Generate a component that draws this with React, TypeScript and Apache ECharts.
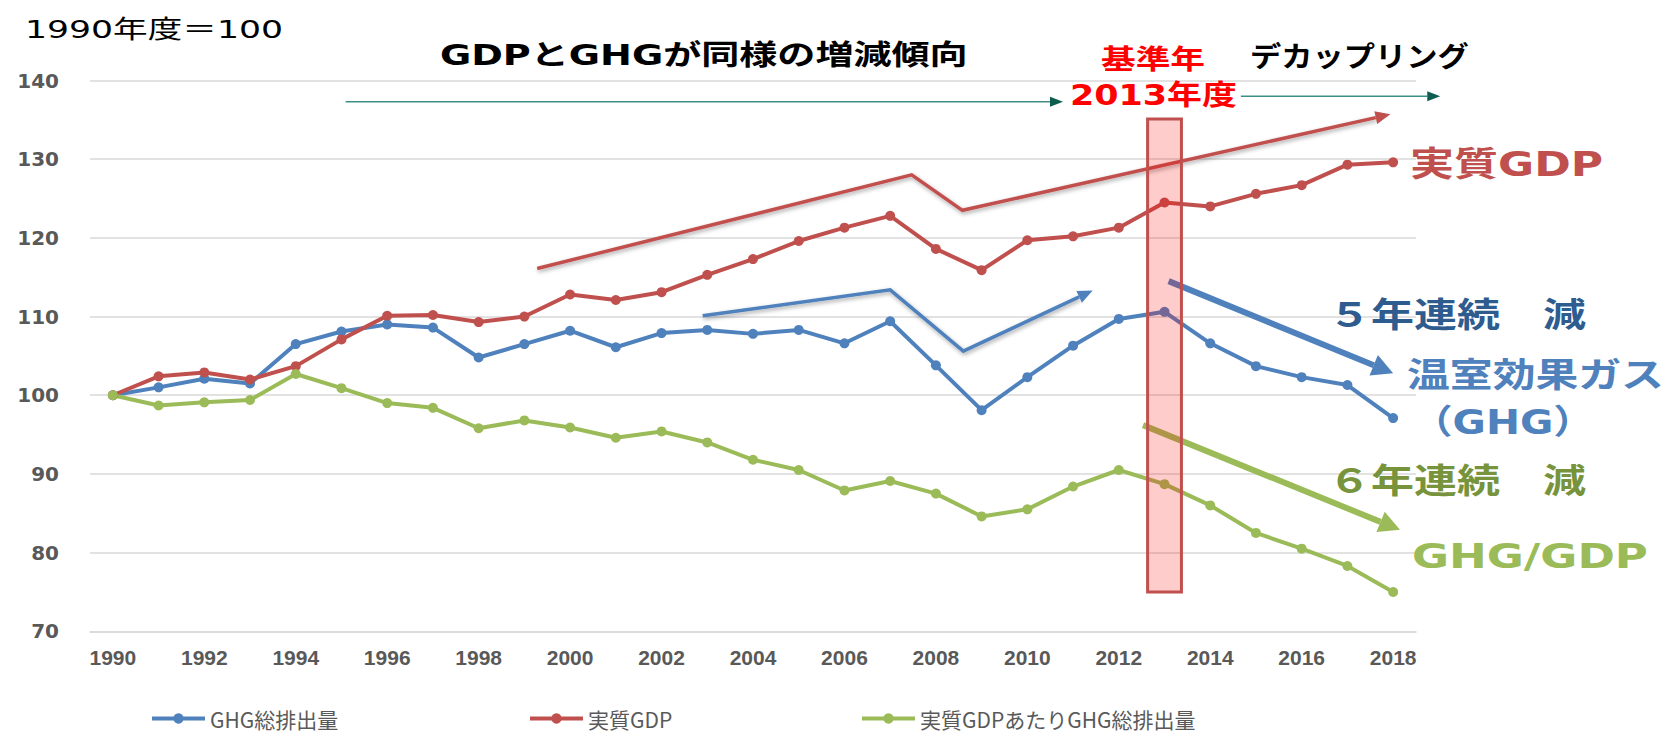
import React, { useEffect, useRef } from "react";
import * as echarts from "echarts";

// ---------- data ----------
const years = [
  "1990", "1991", "1992", "1993", "1994", "1995", "1996", "1997", "1998", "1999",
  "2000", "2001", "2002", "2003", "2004", "2005", "2006", "2007", "2008", "2009",
  "2010", "2011", "2012", "2013", "2014", "2015", "2016", "2017", "2018",
];
const ghgTotal = [
  100, 101.0, 102.1, 101.5, 106.5, 108.1, 109.0, 108.6, 104.8, 106.5,
  108.2, 106.1, 107.9, 108.3, 107.8, 108.3, 106.6, 109.4, 103.8, 98.1,
  102.3, 106.3, 109.7, 110.6, 106.6, 103.7, 102.3, 101.3, 97.1,
];
const realGdp = [
  100, 102.4, 102.9, 102.0, 103.7, 107.1, 110.1, 110.2, 109.3, 110.0,
  112.8, 112.1, 113.1, 115.3, 117.3, 119.6, 121.3, 122.8, 118.6, 115.9,
  119.7, 120.2, 121.3, 124.5, 124.0, 125.6, 126.7, 129.3, 129.6,
];
const ghgPerGdp = [
  100, 98.7, 99.1, 99.4, 102.7, 100.9, 99.0, 98.4, 95.8, 96.8,
  95.9, 94.6, 95.4, 94.0, 91.8, 90.5, 87.9, 89.1, 87.5, 84.6,
  85.5, 88.4, 90.5, 88.7, 86.0, 82.5, 80.5, 78.3, 75.0,
];
const seriesNames = ["GHG総排出量", "実質GDP", "実質GDPあたりGHG総排出量"];
const yMin = 70;
const yMax = 140;
const yInterval = 10;

// annotation paths in data space: [fiscal year, index value]
const gdpTrendPath = [[1999.28, 116.1], [2007.47, 128.0], [2008.58, 123.5], [2017.94, 135.7]];
const ghgTrendPath = [[2002.9, 110.1], [2007.0, 113.4], [2008.6, 105.6], [2011.43, 113.3]];
const ghgDeclinePath = [[2013.09, 114.5], [2018.0, 102.8]];
const ratioDeclinePath = [[2012.53, 96.2], [2018.15, 82.9]];
const coupledPeriodPath = [[1995.09, 137.3], [2010.78, 137.3]];
const decoupledPeriodPath = [[2014.67, 138.0], [2019.03, 138.0]];
const baseYearBand = [[2012.63, 135.1], [2013.37, 75.0]];

// ---------- styles ----------
const BLUE = "#4F81BD";
const RED = "#C0504D";
const GREEN = "#9BBB59";
const GRAY = "#595959";
const FONT = "'DejaVu Sans', 'Noto Sans CJK JP', sans-serif";
const CJK = "'Noto Sans CJK JP', sans-serif";

type Label = {
  text: string; left: number; right: number; cy: number;
  size: number; weight: string; color: string;
};
const labels: Label[] = [
  { text: "1990年度＝100", left: 25, right: 283, cy: 29, size: 25, weight: "normal", color: "#000000" },
  { text: "GDPとGHGが同様の増減傾向", left: 440, right: 968, cy: 55, size: 28, weight: "bold", color: "#000000" },
  { text: "基準年", left: 1101, right: 1205, cy: 59, size: 27, weight: "bold", color: "#FF0000" },
  { text: "2013年度", left: 1070, right: 1237, cy: 95, size: 28, weight: "bold", color: "#FF0000" },
  { text: "デカップリング", left: 1250, right: 1469, cy: 57, size: 28, weight: "bold", color: "#000000" },
  { text: "実質GDP", left: 1410, right: 1603, cy: 164, size: 34, weight: "bold", color: RED },
  { text: "５年連続　減", left: 1328, right: 1586, cy: 315, size: 34, weight: "bold", color: "#2F5C8F" },
  { text: "温室効果ガス", left: 1407, right: 1664, cy: 375, size: 34, weight: "bold", color: BLUE },
  { text: "（GHG）", left: 1412, right: 1594, cy: 422, size: 34, weight: "bold", color: BLUE },
  { text: "６年連続　減", left: 1328, right: 1586, cy: 481, size: 34, weight: "bold", color: "#77933C" },
  { text: "GHG/GDP", left: 1412, right: 1648, cy: 556, size: 34, weight: "bold", color: GREEN },
];

export default function App() {
  const ref = useRef<HTMLDivElement>(null);

  useEffect(() => {
    if (!ref.current) return;
    const chart = echarts.init(ref.current, undefined, { renderer: "svg" });

    const lineSeries = (name: string, data: number[], color: string) => ({
      name,
      type: "line",
      data,
      symbol: "circle",
      symbolSize: 10,
      color,
      lineStyle: { width: 4, color },
      itemStyle: { color },
    });

    const legendBase = {
      top: 708,
      padding: 0,
      itemWidth: 53,
      itemHeight: 13,
      lineStyle: { width: 4 },
      textStyle: { fontSize: 21, lineHeight: 21, color: GRAY, fontFamily: CJK },
    };

    chart.setOption({
      animation: false,
      backgroundColor: "#ffffff",
      grid: { left: 90, right: 253, top: 80.5, bottom: 100.7, outerBoundsMode: "none" },
      legend: [
        { ...legendBase, left: 150, data: [seriesNames[0]] },
        { ...legendBase, left: 528, data: [seriesNames[1]] },
        { ...legendBase, left: 860, data: [seriesNames[2]] },
      ],
      xAxis: {
        type: "category",
        data: years,
        boundaryGap: true,
        axisTick: { show: false },
        axisLine: { lineStyle: { color: "#D9D9D9", width: 1.5 } },
        axisLabel: {
          interval: 1,
          margin: 16,
          fontSize: 21,
          fontWeight: "bold",
          color: GRAY,
          fontFamily: "'Liberation Sans', Arial, sans-serif",
        },
      },
      yAxis: {
        type: "value",
        min: yMin,
        max: yMax,
        interval: yInterval,
        axisLine: { show: false },
        axisTick: { show: false },
        splitLine: { lineStyle: { color: "#D9D9D9", width: 1.5 } },
        axisLabel: {
          margin: 31,
          fontSize: 20,
          fontWeight: "bold",
          color: GRAY,
          fontFamily: "'DejaVu Sans', sans-serif",
        },
      },
      series: [
        lineSeries(seriesNames[0], ghgTotal, BLUE),
        lineSeries(seriesNames[1], realGdp, RED),
        lineSeries(seriesNames[2], ghgPerGdp, GREEN),
      ],
    });

    // data -> pixel helpers through the chart's own axes
    const p0 = chart.convertToPixel({ gridIndex: 0 }, [0, yMin]) as number[];
    const pN = chart.convertToPixel({ gridIndex: 0 }, [years.length - 1, yMax]) as number[];
    const x0 = p0[0];
    const xStep = (pN[0] - p0[0]) / (years.length - 1);
    const firstYear = Number(years[0]);
    const px = (yr: number) => x0 + (yr - firstYear) * xStep;
    const py = (v: number) => p0[1] + ((v - yMin) / (yMax - yMin)) * (pN[1] - p0[1]);

    const arrow = (
      path: number[][], color: string, width: number, headLen: number, headHalf: number,
      z: number, headColor?: string, shadow?: boolean
    ) => {
      const pts = path.map(([a, b]) => [px(a), py(b)]);
      const tip = pts[pts.length - 1];
      const prev = pts[pts.length - 2];
      const dx = tip[0] - prev[0];
      const dy = tip[1] - prev[1];
      const len = Math.hypot(dx, dy);
      const ux = dx / len;
      const uy = dy / len;
      const base = [tip[0] - ux * headLen, tip[1] - uy * headLen];
      const shaft = pts.slice(0, -1).concat([base]);
      const shadowStyle = shadow
        ? { shadowBlur: 4, shadowColor: "rgba(0,0,0,0.35)", shadowOffsetX: 1, shadowOffsetY: 2 }
        : {};
      return [
        {
          type: "polyline",
          z,
          shape: { points: shaft },
          style: { stroke: color, lineWidth: width, lineJoin: "miter", ...shadowStyle },
        },
        {
          type: "polygon",
          z,
          shape: {
            points: [
              tip,
              [base[0] - uy * headHalf, base[1] + ux * headHalf],
              [base[0] + uy * headHalf, base[1] - ux * headHalf],
            ],
          },
          style: { fill: headColor || color },
        },
      ];
    };

    const canvas = document.createElement("canvas");
    const ctx = canvas.getContext("2d") as CanvasRenderingContext2D;
    const textEls = labels.map((l) => {
      ctx.font = `${l.weight} ${l.size}px ${FONT}`;
      const w = ctx.measureText(l.text).width || 1;
      const s = (l.right - l.left) / w;
      return {
        type: "text",
        x: l.left,
        y: l.cy,
        scaleX: s,
        z: 120,
        style: {
          text: l.text,
          fill: l.color,
          fontSize: l.size,
          fontWeight: l.weight,
          fontFamily: FONT,
          align: "left",
          verticalAlign: "middle",
          textAlign: "left",
          textVerticalAlign: "middle",
        },
      };
    });

    const bx0 = px(baseYearBand[0][0]);
    const by0 = py(baseYearBand[0][1]);
    const bx1 = px(baseYearBand[1][0]);
    const by1 = py(baseYearBand[1][1]);

    chart.setOption({
      graphic: [
        ...arrow(gdpTrendPath, RED, 3.5, 15, 6.5, 50, RED, true),
        ...arrow(ghgTrendPath, BLUE, 3.5, 15, 6.5, 50, BLUE, true),
        ...arrow(ghgDeclinePath, BLUE, 6, 21, 11, 50),
        ...arrow(ratioDeclinePath, GREEN, 6, 21, 11, 50),
        ...arrow(coupledPeriodPath, "#3E8E85", 1.5, 13, 5, 50, "#0E5E50"),
        ...arrow(decoupledPeriodPath, "#3E8E85", 1.5, 13, 5, 50, "#0E5E50"),
        {
          type: "rect",
          z: 100,
          shape: { x: bx0, y: by0, width: bx1 - bx0, height: by1 - by0 },
          style: { fill: "rgba(255,0,0,0.2)", stroke: RED, lineWidth: 3 },
        },
        ...textEls,
      ],
    });

    return () => chart.dispose();
  }, []);

  return (
    <div
      ref={ref}
      style={{ position: "absolute", left: 0, top: 0, width: 1669, height: 732 }}
    />
  );
}
